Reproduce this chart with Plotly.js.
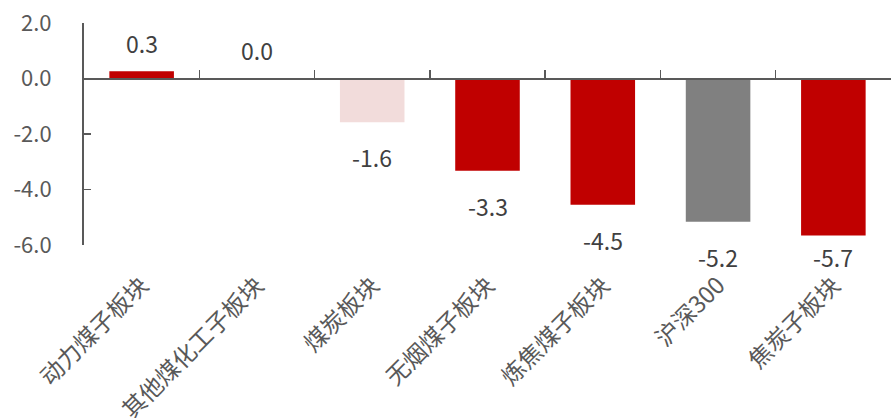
<!DOCTYPE html>
<html>
<head>
<meta charset="utf-8">
<script src="https://cdn.plot.ly/plotly-3.0.1.min.js"></script>
<style>html,body{margin:0;padding:0;background:#fff;}#chart{width:891px;height:418px;}</style>
</head>
<body>
<div id="chart"></div>
<script>
var categories = ["动力煤子板块", "其他煤化工子板块", "煤炭板块", "无烟煤子板块", "炼焦煤子板块", "沪深300", "焦炭子板块"];
var values = [0.26, 0.02, -1.58, -3.32, -4.55, -5.16, -5.66];
var barColors = ["#C00000", "#C00000", "#F2DCDB", "#C00000", "#C00000", "#808080", "#C00000"];
var yTickVals = [2, 0, -2, -4, -6];
var yTickText = ["2.0", "0.0", "-2.0", "-4.0", "-6.0"];

var font = "'Microsoft YaHei', 'Noto Sans CJK SC', 'Noto Sans', sans-serif";
var yMin = -6, yMax = 2, plotTop = 23, plotBottom = 245;
var pxPerUnit = (plotBottom - plotTop) / (yMax - yMin);

var annotations = categories.map(function (c, i) {
  var v = values[i];
  var shift = v >= 0 ? 28 : Math.max(-35, -(6.45 + v) * pxPerUnit);
  return {
    x: c, y: v, xref: "x", yref: "y", yshift: shift,
    text: v.toFixed(1), showarrow: false,
    xanchor: "center", yanchor: "middle",
    font: {family: font, size: 23, color: "#404040"}
  };
});

var trace = {
  type: "bar",
  x: categories,
  y: values,
  marker: {color: barColors, line: {width: 0}},
  hoverinfo: "x+y"
};

var zeroAxisTrace = {
  type: "scatter", x: categories, y: values, xaxis: "x2", yaxis: "y",
  mode: "none", hoverinfo: "skip", showlegend: false
};

var layout = {
  width: 891, height: 418,
  margin: {l: 84, r: 0, t: plotTop, b: 418 - plotBottom},
  paper_bgcolor: "#ffffff", plot_bgcolor: "#ffffff",
  showlegend: false,
  bargap: 0.44,
  font: {family: font, color: "#595959"},
  xaxis: {
    type: "category",
    showline: false, showgrid: false, zeroline: false,
    ticks: "", tickangle: -45,
    tickfont: {family: font, size: 23.5, color: "#595959"},
    ticklabelstandoff: 21,
    automargin: false
  },
  xaxis2: {
    type: "category", overlaying: "x", anchor: "free", position: (0 - yMin) / (yMax - yMin),
    matches: "x",
    showline: true, linecolor: "#595959", linewidth: 2,
    ticks: "inside", tickson: "boundaries", ticklen: 8, tickwidth: 1.5, tickcolor: "#595959",
    showticklabels: false, showgrid: false, zeroline: false
  },
  yaxis: {
    range: [yMin, yMax],
    tickvals: yTickVals, ticktext: yTickText,
    showline: true, linecolor: "#595959", linewidth: 2,
    ticks: "inside", ticklen: 7, tickwidth: 1.5, tickcolor: "#595959",
    showgrid: false, zeroline: false,
    tickfont: {family: font, size: 22, color: "#595959"},
    ticklabelstandoff: 26,
    automargin: false
  },
  annotations: annotations
};

Plotly.newPlot("chart", [trace, zeroAxisTrace], layout, {displayModeBar: false, staticPlot: true});
</script>
</body>
</html>
